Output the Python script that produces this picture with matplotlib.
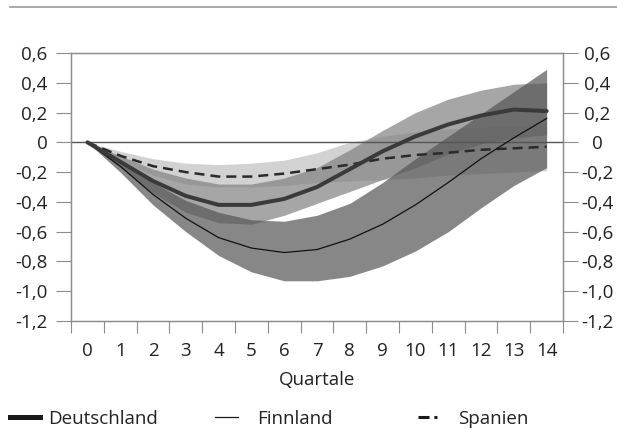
import matplotlib
matplotlib.use("Agg")
import numpy as np
from matplotlib import pyplot as plt
from matplotlib.lines import Line2D

plt.rcParams['font.family'] = ['Open Sans', 'DejaVu Sans']

quartale = list(range(15))

# point estimates
deutschland = [0, -0.13, -0.26, -0.36, -0.42, -0.42, -0.38, -0.30, -0.18, -0.06, 0.04, 0.12, 0.18, 0.22, 0.21]
finnland = [0, -0.16, -0.35, -0.51, -0.64, -0.71, -0.74, -0.72, -0.65, -0.55, -0.42, -0.27, -0.11, 0.03, 0.16]
spanien = [0, -0.09, -0.16, -0.20, -0.23, -0.23, -0.21, -0.18, -0.15, -0.11, -0.085, -0.07, -0.05, -0.04, -0.03]

# confidence bands
deutschland_hi = [0, -0.09, -0.18, -0.24, -0.28, -0.28, -0.24, -0.17, -0.05, 0.08, 0.20, 0.29, 0.35, 0.39, 0.40]
deutschland_lo = [0, -0.17, -0.34, -0.47, -0.54, -0.55, -0.49, -0.41, -0.33, -0.25, -0.17, -0.08, -0.01, 0.03, 0.05]
finnland_hi = [0, -0.12, -0.27, -0.39, -0.47, -0.52, -0.53, -0.49, -0.41, -0.27, -0.11, 0.04, 0.19, 0.34, 0.49]
finnland_lo = [0, -0.20, -0.42, -0.60, -0.76, -0.87, -0.93, -0.93, -0.90, -0.83, -0.73, -0.60, -0.44, -0.29, -0.17]
spanien_hi = [0, -0.06, -0.11, -0.14, -0.15, -0.14, -0.12, -0.07, 0.0, 0.04, 0.07, 0.09, 0.10, 0.11, 0.11]
spanien_lo = [0, -0.12, -0.22, -0.28, -0.30, -0.30, -0.29, -0.27, -0.26, -0.25, -0.24, -0.22, -0.21, -0.20, -0.19]

yticks = [0.6, 0.4, 0.2, 0, -0.2, -0.4, -0.6, -0.8, -1.0, -1.2]
ytick_labels = ['0,6', '0,4', '0,2', '0', '-0,2', '-0,4', '-0,6', '-0,8', '-1,0', '-1,2']

txt = '#222222'
axc = '#8c8c8c'
fs = 13.5

fig = plt.figure(figsize=(6.17, 4.29), dpi=100)
ax = fig.add_axes([0.1151, 0.2517, 0.7974, 0.6248])

ax.fill_between(quartale, spanien_lo, spanien_hi, color='#bfbfbf', alpha=0.7, lw=0, zorder=1)
ax.fill_between(quartale, deutschland_lo, deutschland_hi, color='#808080', alpha=0.7, lw=0, zorder=1)
ax.fill_between(quartale, finnland_lo, finnland_hi, color='#555555', alpha=0.7, lw=0, zorder=1)

ax.axhline(0, color='#555555', lw=1, zorder=2)

ax.plot(quartale, spanien, color='#2a2a2a', lw=1.8, dashes=(4, 2.4), zorder=3)
ax.plot(quartale, finnland, color='#111111', lw=0.9, zorder=3)
ax.plot(quartale, deutschland, color='#3a3a3a', lw=2.9, zorder=4, solid_capstyle='round')

ax.set_xlim(-0.5, 14.5)
ax.set_ylim(-1.2, 0.6)

ax.set_xticks(np.arange(-0.5, 15, 1))
ax.set_xticklabels([])
ax.set_xticks(quartale, minor=True)
ax.set_xticklabels([str(q) for q in quartale], minor=True)
ax.tick_params(axis='x', which='major', length=8.6, width=0.8, color=axc, direction='out')
ax.tick_params(axis='x', which='minor', length=0, pad=15, labelsize=fs, labelcolor=txt)

ax.set_yticks(yticks)
ax.set_yticklabels(ytick_labels)
ax.tick_params(axis='y', length=10.8, width=0.8, color=axc, pad=6, labelsize=fs, labelcolor=txt)

ax2 = ax.twinx()
ax2.set_ylim(-1.2, 0.6)
ax2.set_yticks(yticks)
ax2.set_yticklabels(ytick_labels)
ax2.tick_params(axis='y', length=10.8, width=0.8, color=axc, pad=14, labelsize=fs, labelcolor=txt)
for lab in ax2.get_yticklabels():
    lab.set_horizontalalignment('center')

for a in (ax, ax2):
    for s in a.spines.values():
        s.set_color(axc)
        s.set_linewidth(0.9)

ax.set_xlabel('Quartale', fontsize=fs, color=txt, labelpad=8)

# separator line at top
fig.add_artist(Line2D([10 / 617, 1], [1 - 7 / 429] * 2, transform=fig.transFigure, color='#999999', lw=1.2))

# legend, three entries spaced apart
handles = [
    (Line2D([], [], color='#1a1a1a', lw=3.6), 'Deutschland', 10, 1.6, 0.45),
    (Line2D([], [], color='#1a1a1a', lw=0.9), 'Finnland', 215, 1.25, 1.0),
    (Line2D([], [], color='#1a1a1a', lw=2.2, dashes=(3.6, 1.6, 1.0, 10)), 'Spanien', 418, 1.3, 0.85),
]
for h, name, xpix, hl, tp in handles:
    fig.legend([h], [name], loc='center left', bbox_to_anchor=(xpix / 617, 1 - 419 / 429),
               frameon=False, fontsize=fs, borderpad=0, borderaxespad=0,
               handlelength=hl, handletextpad=tp, labelcolor=txt)

fig.savefig('out.png', dpi=100)
